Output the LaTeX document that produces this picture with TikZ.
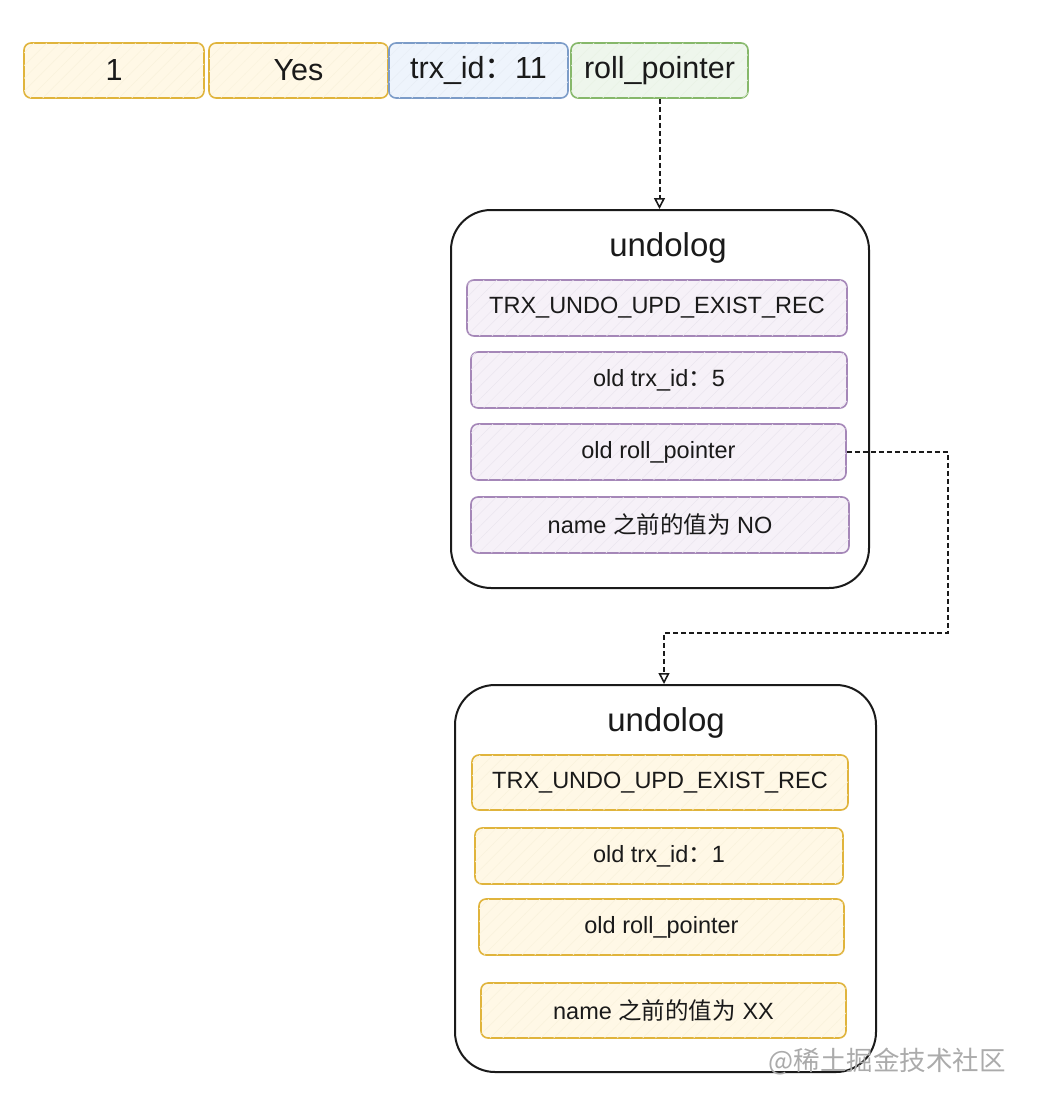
\documentclass[tikz,border=0pt]{standalone}
\usepackage{fontspec}
\setmainfont{Liberation Sans}
\newfontfamily\cjk{Noto Sans CJK SC}
\usetikzlibrary{arrows.meta,patterns.meta}
\definecolor{ystroke}{HTML}{E0B43C}
\definecolor{yfill}{HTML}{FFF8E6}
\definecolor{bstroke}{HTML}{7C9CC8}
\definecolor{bfill}{HTML}{EEF4FC}
\definecolor{gstroke}{HTML}{86B86A}
\definecolor{gfill}{HTML}{EEF6EC}
\definecolor{pstroke}{HTML}{A587B8}
\definecolor{pfill}{HTML}{F6F1F8}
\definecolor{ink}{HTML}{1A1A1A}
\tikzset{
  cell/.style={draw, line width=1.6pt, rounded corners=7pt, inner sep=0pt, text=ink},
  topcell/.style={cell, font=\fontsize{30.5}{34}\selectfont, minimum height=55pt},
  subcell/.style={cell, font=\fontsize{23.5}{27}\selectfont, minimum height=56pt},
  ycell/.style={draw=ystroke, fill=yfill, postaction={pattern={Lines[angle=45,distance=9pt,line width=0.5pt]}, pattern color=ystroke!18}},
  bcell/.style={draw=bstroke, fill=bfill, postaction={pattern={Lines[angle=45,distance=9pt,line width=0.5pt]}, pattern color=bstroke!18}},
  gcell/.style={draw=gstroke, fill=gfill, postaction={pattern={Lines[angle=45,distance=9pt,line width=0.5pt]}, pattern color=gstroke!18}},
  pcell/.style={draw=pstroke, fill=pfill, postaction={pattern={Lines[angle=45,distance=9pt,line width=0.5pt]}, pattern color=pstroke!22}},
  outer/.style={draw=ink, line width=2pt, rounded corners=40pt, fill=white},
  title/.style={font=\fontsize{33}{38}\selectfont, text=ink},
  link/.style={draw=ink, line width=2pt, dash pattern=on 5pt off 3pt, -{Triangle[open,length=11pt,width=11pt,line width=1.6pt]}}
}
\begin{document}
\begin{tikzpicture}[x=1pt,y=-1pt]
\useasboundingbox (0,0) rectangle (1060,1108);
% top row
\node[topcell, ycell, minimum width=180pt] (c1) at (114,70.5) {1};
\node[topcell, ycell, minimum width=179pt] (c2) at (298.5,70.5) {Yes};
\node[topcell, bcell, minimum width=179pt] (c3) at (478.5,70.5) {trx\_id{\cjk ：}11};
\node[topcell, gcell, minimum width=177pt] (c4) at (659.5,70.5) {roll\_pointer};
% undolog 1
\node[outer, minimum width=418pt, minimum height=378pt] (u1) at (660,399) {};
\node[title] (t1) at (668,248) {undolog};
\node[subcell, pcell, minimum width=380pt] (a1) at (657,308) {TRX\_UNDO\_UPD\_EXIST\_REC};
\node[subcell, pcell, minimum width=376pt] (a2) at (659,380) {old trx\_id{\cjk ：}5};
\node[subcell, pcell, minimum width=375pt] (a3) at (658.5,452) {old roll\_pointer};
\node[subcell, pcell, minimum width=378pt] (a4) at (660,525) {name {\cjk 之前的值为} NO};
% undolog 2
\node[outer, minimum width=421pt, minimum height=387pt] (u2) at (665.5,878.5) {};
\node[title] (t2) at (666,723) {undolog};
\node[subcell, ycell, minimum width=376pt, minimum height=55pt] (b1) at (660,782.5) {TRX\_UNDO\_UPD\_EXIST\_REC};
\node[subcell, ycell, minimum width=368pt] (b2) at (659,856) {old trx\_id{\cjk ：}1};
\node[subcell, ycell, minimum width=365pt] (b3) at (661.5,927) {old roll\_pointer};
\node[subcell, ycell, minimum width=365pt, minimum height=55pt] (b4) at (663.5,1010.5) {name {\cjk 之前的值为} XX};
% connectors
\draw[link] (c4.south) -- (c4.south |- u1.north);
\coordinate (k1) at (948,452);
\coordinate (k2) at (948,633);
\coordinate (k3) at (664,633);
\draw[link] (a3.east) -- (k1) -- (k2) -- (k3) -- (k3 |- u2.north);
% watermark
\node[font=\cjk\fontsize{26.5}{30}\selectfont, text=black!33] (wm) at (887,1062) {@稀土掘金技术社区};
\end{tikzpicture}
\end{document}
